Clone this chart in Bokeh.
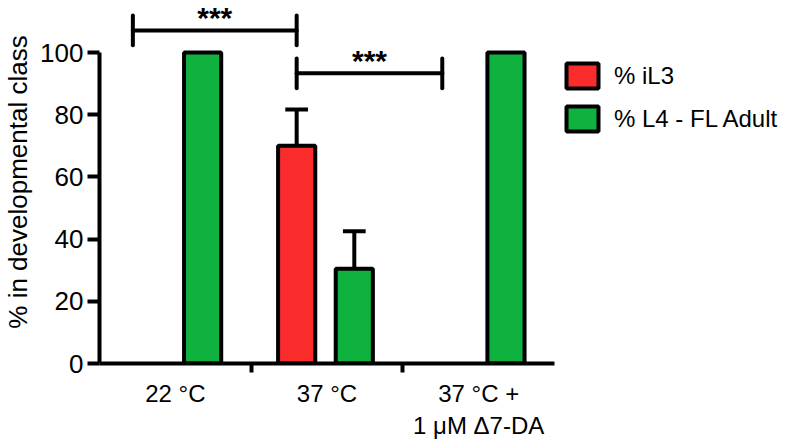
from bokeh.plotting import figure
from bokeh.models import (Range1d, FixedTicker, LinearAxis, ColumnDataSource,
                          Legend, LegendItem)
from bokeh.core.properties import value
from bokeh.embed import file_html
from bokeh.resources import INLINE

# ---------------- data ----------------
groups = ["22 °C", "37 °C", "37 °C +\n1 μM Δ7-DA"]
series_names = ["% iL3", "% L4 - FL Adult"]
il3 = [0, 70, 0]
il3_err = [0, 11.7, 0]
l4 = [100, 30.5, 100]
l4_err = [0, 12.0, 0]
y_ticks = [0, 20, 40, 60, 80, 100]
y_label = "% in developmental class"
# significance brackets (x in group units, y in %)
sig_from = [0.22, 1.30]
sig_to = [1.30, 2.26]
sig_level = [107.1, 93.3]
sig_text = ["***", "***"]

# ---------------- style ----------------
FONT = "Liberation Sans"
RED = "#FA2C2C"
GREEN = "#0FB13F"
LW = 4
BAR_W = 0.245
RED_OFF, GREEN_OFF = 0.30, 0.68
CAP = 0.075
TICK_HALF = 4.8
STAR_UP = 4.0

frame_w, frame_h = 679, 363
px_per_group = 151.67
y_top = 100 * frame_h / (frame_h - 52)

p = figure(frame_width=frame_w, frame_height=frame_h,
           output_backend="svg", toolbar_location=None,
           x_range=Range1d(0, frame_w / px_per_group),
           y_range=Range1d(0, y_top),
           min_border_left=92, min_border_right=0, min_border_top=0,
           min_border_bottom=68)
p.outline_line_color = None
p.grid.visible = False
p.background_fill_color = "white"
p.border_fill_color = "white"

n = len(groups)
idx = list(range(n))

# error bars
def add_err(offset, vals, errs):
    xs = [i + offset for i in idx if errs[i] > 0]
    y0 = [vals[i] for i in idx if errs[i] > 0]
    y1 = [vals[i] + errs[i] for i in idx if errs[i] > 0]
    p.segment(x0=xs, y0=y0, x1=xs, y1=y1, line_color="black", line_width=LW)
    p.segment(x0=[x - CAP for x in xs], y0=y1, x1=[x + CAP for x in xs], y1=y1,
              line_color="black", line_width=LW)

add_err(RED_OFF, il3, il3_err)
add_err(GREEN_OFF, l4, l4_err)

red_src = ColumnDataSource(dict(x=[i + RED_OFF for i in idx if il3[i] > 0],
                                top=[il3[i] for i in idx if il3[i] > 0]))
green_src = ColumnDataSource(dict(x=[i + GREEN_OFF for i in idx if l4[i] > 0],
                                  top=[l4[i] for i in idx if l4[i] > 0]))
r_red = p.vbar(x="x", top="top", bottom=0, width=BAR_W, source=red_src,
               fill_color=RED, line_color="black", line_width=LW)
r_green = p.vbar(x="x", top="top", bottom=0, width=BAR_W, source=green_src,
                 fill_color=GREEN, line_color="black", line_width=LW)

# significance brackets
p.segment(x0=sig_from, y0=sig_level, x1=sig_to, y1=sig_level,
          line_color="black", line_width=LW, line_cap="round")
ends_x = sig_from + sig_to
ends_y = sig_level + sig_level
p.segment(x0=ends_x, y0=[y - TICK_HALF for y in ends_y],
          x1=ends_x, y1=[y + TICK_HALF for y in ends_y],
          line_color="black", line_width=LW, line_cap="round")
p.text(x=[(a + b) / 2 for a, b in zip(sig_from, sig_to)],
       y=[y + STAR_UP for y in sig_level], text=sig_text,
       text_align="center", text_baseline="middle",
       text_font=value(FONT), text_font_size="30px", text_font_style="bold",
       text_color="black")

# y axis
ya = p.yaxis[0]
ya.ticker = FixedTicker(ticks=y_ticks)
ya.bounds = (0, 100)
ya.axis_line_width = LW
ya.major_tick_line_width = LW
ya.major_tick_out = 12
ya.major_tick_in = 0
ya.minor_tick_line_color = None
ya.major_label_text_font = FONT
ya.major_label_text_font_size = "26px"
ya.major_label_text_color = "black"
ya.major_label_standoff = 4
ya.axis_label = y_label
ya.axis_label_text_font = FONT
ya.axis_label_text_font_size = "26px"
ya.axis_label_text_font_style = "normal"
ya.axis_label_text_color = "black"
ya.axis_label_standoff = 4

# x axis: line + separator ticks
xa = p.xaxis[0]
xa.ticker = FixedTicker(ticks=[i for i in range(1, n)])
xa.bounds = (0, n)
xa.axis_line_width = LW
xa.major_tick_line_width = LW
xa.major_tick_out = 9
xa.major_tick_in = 0
xa.minor_tick_line_color = None
xa.major_label_overrides = {i: "" for i in range(1, n)}
xa.major_label_text_font_size = "1px"
xa.major_label_standoff = 0

# x axis: group labels
xb = LinearAxis(ticker=FixedTicker(ticks=[i + 0.5 for i in idx]),
                major_label_overrides={i + 0.5: g for i, g in zip(idx, groups)},
                axis_line_color=None, major_tick_line_color=None,
                minor_tick_line_color=None, major_tick_out=0, major_tick_in=0,
                major_label_standoff=7, major_label_text_font=FONT,
                major_label_text_font_size="24px", major_label_text_color="black",
                major_label_text_line_height=1.2)
p.add_layout(xb, "below")

legend = Legend(items=[LegendItem(label=series_names[0], renderers=[r_red]),
                       LegendItem(label=series_names[1], renderers=[r_green])],
                location=(463, 229), glyph_width=40, glyph_height=31,
                label_height=31, label_standoff=12, spacing=12, padding=0,
                margin=0, border_line_color=None, background_fill_alpha=0,
                label_text_font=FONT, label_text_font_size="24px",
                label_text_color="black")
p.add_layout(legend)

open("out.html", "w").write(file_html(p, INLINE))
